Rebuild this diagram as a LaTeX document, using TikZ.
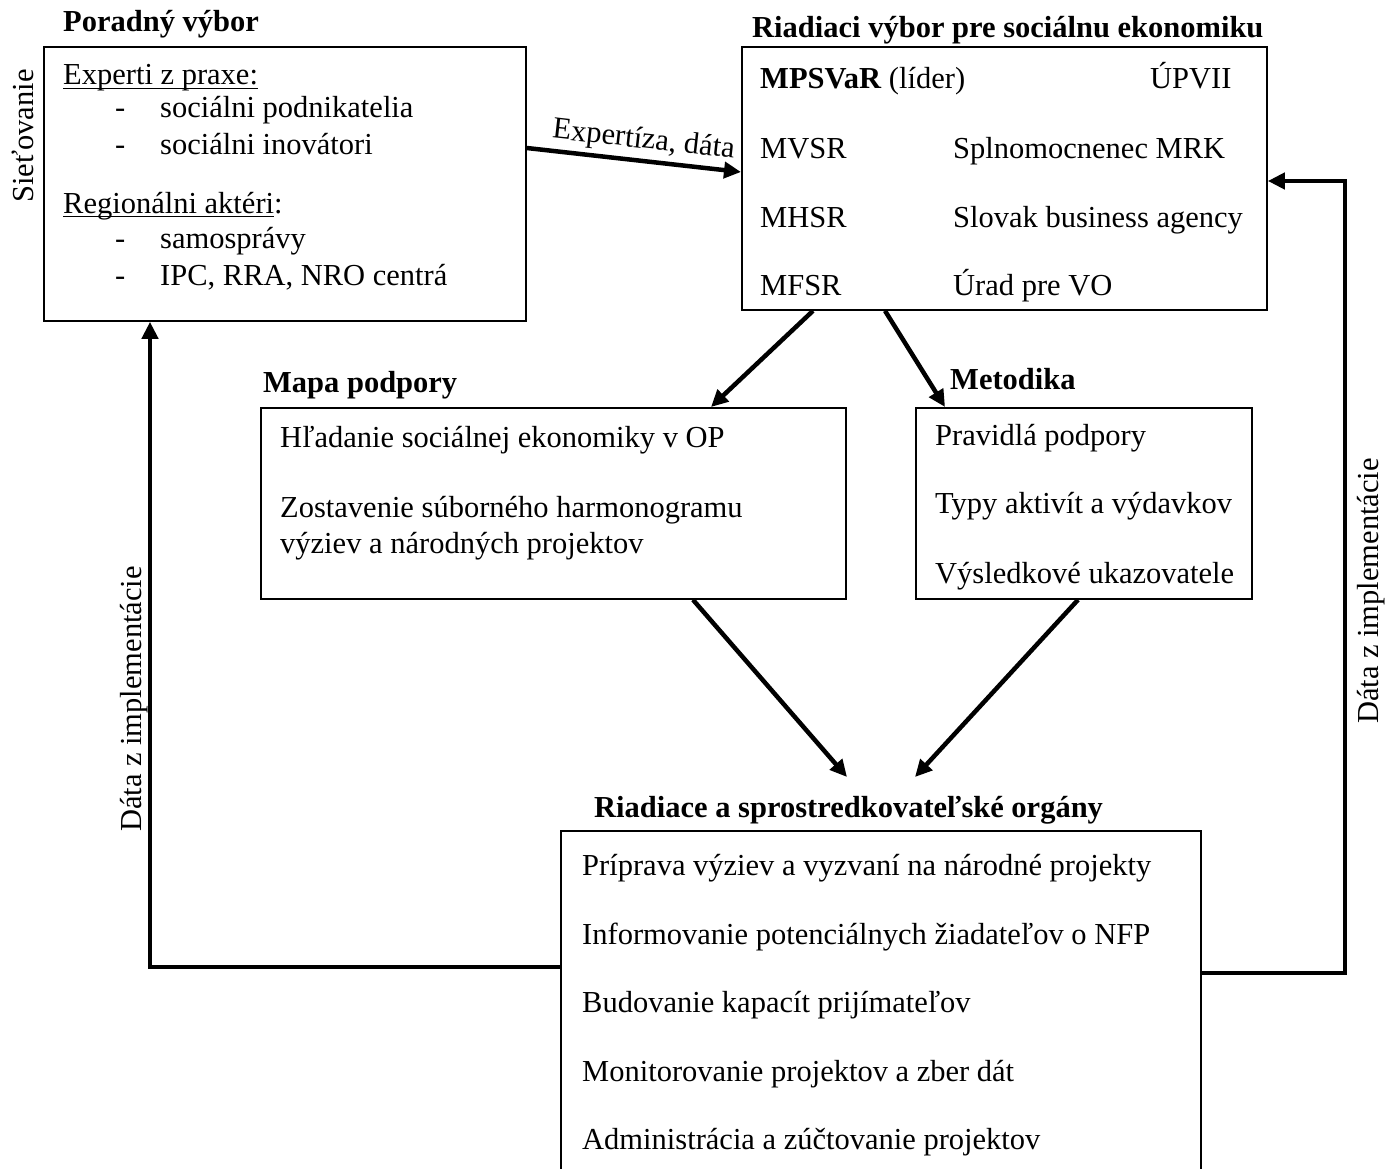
\documentclass[tikz,border=0pt]{standalone}
\usepackage{fontspec}
\setmainfont{Liberation Serif}
\usetikzlibrary{arrows.meta}
% underline drawn just under the baseline
\newcommand\ulin[1]{\setbox0\hbox{#1}\rlap{\rule[-4.5pt]{\wd0}{1.6pt}}\box0}
\newcommand\bodyfont{\fontsize{30.5}{36}\selectfont}
\begin{document}
\begin{tikzpicture}[x=1pt,y=-1pt,
  frame/.style={draw, line width=1.8pt, inner sep=0, anchor=north west},
  txt/.style={font=\bodyfont, inner sep=0, anchor=base west},
  ttl/.style={font=\bodyfont\bfseries, inner sep=0, anchor=base west},
  flow/.style={line width=4.5pt, -{Triangle[length=17pt,width=16pt]}},
]
\useasboundingbox (0,0) rectangle (1386,1169);
\clip (0,0) rectangle (1386,1169);

% boxes
\node[frame, minimum width=482pt, minimum height=274pt] (por) at (43,46) {};
\node[frame, minimum width=525pt, minimum height=263pt] (riad) at (741,46) {};
\node[frame, minimum width=585pt, minimum height=191pt] (mapa) at (260,407) {};
\node[frame, minimum width=336pt, minimum height=191pt] (meto) at (915,407) {};
\node[frame, minimum width=640pt, minimum height=360pt] (org) at (560,830) {};

% advisory committee
\node[ttl] (porT) at (63,32) {Poradný výbor};
\node[txt, rotate=90, anchor=base] (siet) at (33,136) {Sieťovanie};
\node[txt] (exp) at (63,85) {\ulin{Experti z praxe:}};
\node[txt] (d1) at (115,118) {-};
\node[txt] (e1) at (160,118) {sociálni podnikatelia};
\node[txt] (d2) at (115,155) {-};
\node[txt] (e2) at (160,155) {sociálni inovátori};
\node[txt] (reg) at (63,213) {\ulin{Regionálni aktéri}:};
\node[txt] (d3) at (115,248) {-};
\node[txt] (r1) at (160,248) {samosprávy};
\node[txt] (d4) at (115,285) {-};
\node[txt] (r2) at (160,285) {IPC, RRA, NRO centrá};

% steering committee
\node[ttl] (riadT) at (752,38) {Riadiaci výbor pre sociálnu ekonomiku};
\node[txt] (s1) at (760,89) {\textbf{MPSVaR} (líder)};
\node[txt] (s2) at (1150,89) {ÚPVII};
\node[txt] (s3) at (760,159) {MVSR};
\node[txt] (s4) at (953,159) {Splnomocnenec MRK};
\node[txt] (s5) at (760,227) {MHSR};
\node[txt] (s6) at (953,227) {Slovak business agency};
\node[txt] (s7) at (760,295) {MFSR};
\node[txt] (s8) at (953,295) {Úrad pre VO};

% support map
\node[ttl] (mapaT) at (263,392) {Mapa podpory};
\node[txt] (m1t) at (280,447) {Hľadanie sociálnej ekonomiky v OP};
\node[txt] (m2t) at (280,517) {Zostavenie súborného harmonogramu};
\node[txt] (m3t) at (280,553) {výziev a národných projektov};

% methodology
\node[ttl] (metoT) at (950,389) {Metodika};
\node[txt] (t1) at (935,445) {Pravidlá podpory};
\node[txt] (t2) at (935,513) {Typy aktivít a výdavkov};
\node[txt] (t3) at (935,583) {Výsledkové ukazovatele};

% managing bodies
\node[ttl] (orgT) at (594,817) {Riadiace a sprostredkovateľské orgány};
\node[txt] (o1) at (582,875) {Príprava výziev a vyzvaní na národné projekty};
\node[txt] (o2) at (582,944) {Informovanie potenciálnych žiadateľov o NFP};
\node[txt] (o3) at (582,1012) {Budovanie kapacít prijímateľov};
\node[txt] (o4) at (582,1081) {Monitorovanie projektov a zber dát};
\node[txt] (o5) at (582,1149) {Administrácia a zúčtovanie projektov};

% connectors
\draw[flow] (por.east |- 0,148) -- node[pos=0.535, sloped, above=4pt, font=\bodyfont, inner sep=0] (expl) {Expertíza, dáta} (riad.west |- 0,172);
\draw[flow] (riad.south -| 813,0) -- (mapa.north -| 711,0);
\draw[flow] (riad.south -| 885,0) -- (meto.north -| 945,0);
\coordinate (j1) at (847,777);
\coordinate (j2) at (915,777);
\draw[flow] (mapa.south -| 693,0) -- (j1);
\draw[flow] (meto.south -| 1078,0) -- (j2);

\coordinate (lc) at (150,967);
\draw[flow] (org.west |- lc) -- (lc) -- (lc |- por.south);
\node[txt, rotate=90, anchor=base] (dl) at (141,699) {Dáta z implementácie};

\coordinate (rc) at (1345,973);
\coordinate (rt) at (1345,181);
\draw[flow] (org.east |- rc) -- (rc) -- (rt) -- (rt -| riad.east);
\node[txt, rotate=90, anchor=base] (dr) at (1378,591) {Dáta z implementácie};
\end{tikzpicture}
\end{document}
